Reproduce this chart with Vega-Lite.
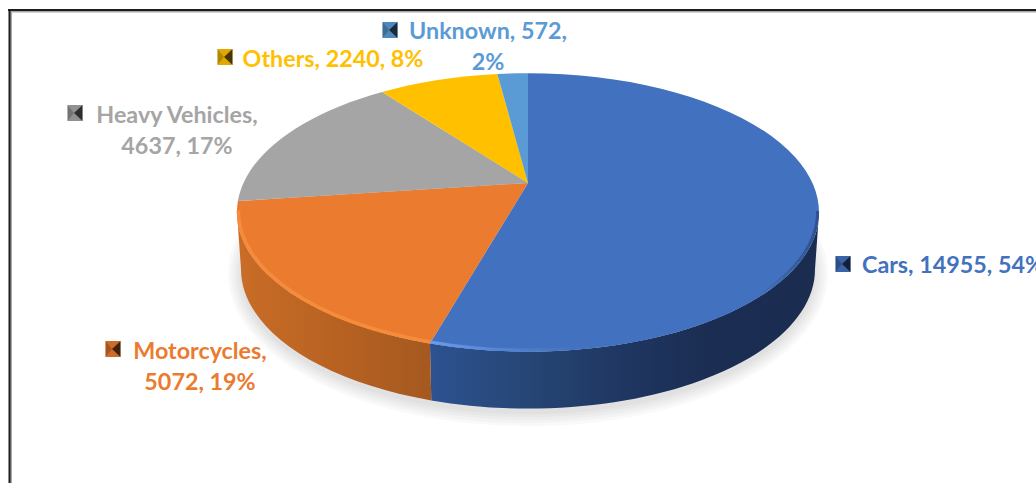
{
  "$schema": "https://vega.github.io/schema/vega-lite/v6.json",
  "width": 1036,
  "height": 483,
  "padding": 0,
  "autosize": {"type": "fit", "contains": "padding"},
  "background": "#ffffff",
  "config": {"view": {"stroke": null}, "axis": {"disable": true}},
  "data": {"values": [
    {"rank": 1, "category": "Cars", "value": 14955, "label": "Cars, 14955, 54%"},
    {"rank": 2, "category": "Motorcycles", "value": 5072, "label": "Motorcycles,\n5072, 19%"},
    {"rank": 3, "category": "Heavy Vehicles", "value": 4637, "label": "Heavy Vehicles,\n4637, 17%"},
    {"rank": 4, "category": "Others", "value": 2240, "label": "Others, 2240, 8%"},
    {"rank": 5, "category": "Unknown", "value": 572, "label": "Unknown, 572,\n2%"}
  ]},
  "transform": [
    {"joinaggregate": [{"op": "sum", "field": "value", "as": "total"}]},
    {"window": [{"op": "sum", "field": "value", "as": "cum"}], "sort": [{"field": "rank", "order": "ascending"}]},
    {"calculate": "2*PI*(datum.cum-datum.value)/datum.total", "as": "a0"},
    {"calculate": "2*PI*datum.cum/datum.total", "as": "a1"},
    {"calculate": "round(28450*sin(datum.a0)/(1+0.211*cos(datum.a0)))/100", "as": "x0"},
    {"calculate": "round(-13300*cos(datum.a0)/(1+0.211*cos(datum.a0)))/100", "as": "y0"},
    {"calculate": "round(28450*sin(datum.a1)/(1+0.211*cos(datum.a1)))/100", "as": "x1"},
    {"calculate": "round(-13300*cos(datum.a1)/(1+0.211*cos(datum.a1)))/100", "as": "y1"},
    {"calculate": "'M0,0L'+datum.x0+','+datum.y0+'A291,139.2,0,'+(datum.a1-datum.a0>PI?1:0)+',1,'+datum.x1+','+datum.y1+'Z'", "as": "wedge"},
    {"calculate": "max(datum.a0,1.784)", "as": "s0"},
    {"calculate": "min(datum.a1,4.5)", "as": "s1"},
    {"calculate": "round(28450*sin(datum.s0)/(1+0.211*cos(datum.s0)))/100", "as": "sx0"},
    {"calculate": "round(-13300*cos(datum.s0)/(1+0.211*cos(datum.s0)))/100", "as": "sy0"},
    {"calculate": "round(28450*sin(datum.s1)/(1+0.211*cos(datum.s1)))/100", "as": "sx1"},
    {"calculate": "round(-13300*cos(datum.s1)/(1+0.211*cos(datum.s1)))/100", "as": "sy1"},
    {"calculate": "'M'+datum.sx0+','+datum.sy0+'A291,139.2,0,0,1,'+datum.sx1+','+datum.sy1+'L'+round(datum.sx1*98.6)/100+','+(datum.sy1+57)+'A287,139.2,0,0,0,'+round(datum.sx0*98.6)/100+','+(datum.sy0+57)+'Z'", "as": "side"},
    {"calculate": "'M'+round(datum.sx0*99.5)/100+','+(datum.sy0-1.5)+'A289.5,138.5,0,0,1,'+round(datum.sx1*99.5)/100+','+(datum.sy1-1.5)", "as": "rim"},
    {"calculate": "{'Cars':953,'Motorcycles':200,'Heavy Vehicles':177,'Others':333,'Unknown':488}[datum.category]", "as": "labelX"},
    {"calculate": "{'Cars':266,'Motorcycles':351.5,'Heavy Vehicles':116,'Others':60,'Unknown':31.5}[datum.category]", "as": "labelY"},
    {"calculate": "{'Cars':843,'Motorcycles':113,'Heavy Vehicles':75,'Others':225,'Unknown':390}[datum.category]", "as": "keyX"},
    {"calculate": "{'Cars':264,'Motorcycles':349,'Heavy Vehicles':113,'Others':57,'Unknown':30}[datum.category]", "as": "keyY"}
  ],
  "layer": [
    {
      "data": {"values": [{"spread": 1}, {"spread": 4}, {"spread": 7}, {"spread": 10}, {"spread": 13}]},
      "transform": [
        {"calculate": "'M'+(-287-datum.spread)+',91A'+(287+datum.spread)+','+(139.2+datum.spread)+',0,1,0,'+(287+datum.spread)+',91A'+(287+datum.spread)+','+(139.2+datum.spread)+',0,1,0,'+(-287-datum.spread)+',91Z'", "as": "halo"}
      ],
      "mark": {"type": "point", "filled": true, "opacity": 0.022, "fill": "#000000", "size": 4},
      "encoding": {
        "x": {"datum": 528, "type": "quantitative", "scale": {"domain": [0, 1036], "range": [0, 1036], "nice": false, "zero": false}},
        "y": {"datum": 183, "type": "quantitative", "scale": {"domain": [0, 483], "range": [0, 483], "nice": false, "zero": false}},
        "shape": {"field": "halo", "type": "nominal", "scale": null, "legend": null}
      }
    },
    {
      "data": {"values": [{"edge": "top"}]},
      "mark": {"type": "rule", "stroke": "#a8a8a8", "strokeWidth": 2},
      "encoding": {
        "x": {"datum": 9, "type": "quantitative"},
        "x2": {"datum": 1036},
        "y": {"datum": 11.5, "type": "quantitative"}
      }
    },
    {
      "data": {"values": [{"edge": "left"}]},
      "mark": {"type": "rule", "stroke": "#a8a8a8", "strokeWidth": 2},
      "encoding": {
        "x": {"datum": 11, "type": "quantitative"},
        "y": {"datum": 10, "type": "quantitative"},
        "y2": {"datum": 483}
      }
    },
    {
      "data": {"values": [{"edge": "top"}]},
      "mark": {"type": "rule", "stroke": "#1c1c1c", "strokeWidth": 2},
      "encoding": {
        "x": {"datum": 8, "type": "quantitative"},
        "x2": {"datum": 1036},
        "y": {"datum": 10, "type": "quantitative"}
      }
    },
    {
      "data": {"values": [{"edge": "left"}]},
      "mark": {"type": "rule", "stroke": "#1c1c1c", "strokeWidth": 2},
      "encoding": {
        "x": {"datum": 9.5, "type": "quantitative"},
        "y": {"datum": 10, "type": "quantitative"},
        "y2": {"datum": 483}
      }
    },
    {
      "transform": [{"filter": "datum.category==='Cars'"}],
      "mark": {"type": "point", "filled": true, "opacity": 1, "size": 4, "fill": {
        "gradient": "linear", "x1": 0, "x2": 1, "y1": 0, "y2": 0,
        "stops": [{"offset": 0, "color": "#2c5290"}, {"offset": 0.25, "color": "#264675"}, {"offset": 0.5, "color": "#1f3661"}, {"offset": 0.72, "color": "#1b2d52"}, {"offset": 1, "color": "#1a2c50"}]
      }},
      "encoding": {
        "x": {"datum": 528, "type": "quantitative"},
        "y": {"datum": 183, "type": "quantitative"},
        "shape": {"field": "side", "type": "nominal", "scale": null, "legend": null}
      }
    },
    {
      "transform": [{"filter": "datum.category==='Motorcycles'"}],
      "mark": {"type": "point", "filled": true, "opacity": 1, "size": 4, "fill": {
        "gradient": "linear", "x1": 0, "x2": 1, "y1": 0, "y2": 0,
        "stops": [{"offset": 0, "color": "#c96d27"}, {"offset": 0.5, "color": "#b86222"}, {"offset": 1, "color": "#a5591f"}]
      }},
      "encoding": {
        "x": {"datum": 528, "type": "quantitative"},
        "y": {"datum": 183, "type": "quantitative"},
        "shape": {"field": "side", "type": "nominal", "scale": null, "legend": null}
      }
    },
    {
      "mark": {"type": "point", "filled": true, "opacity": 1, "size": 4},
      "encoding": {
        "x": {"datum": 528, "type": "quantitative"},
        "y": {"datum": 183, "type": "quantitative"},
        "shape": {"field": "wedge", "type": "nominal", "scale": null, "legend": null},
        "fill": {"field": "category", "type": "nominal", "legend": null, "scale": {
          "domain": ["Cars", "Motorcycles", "Heavy Vehicles", "Others", "Unknown"],
          "range": ["#4271c0", "#ea7b2f", "#a5a5a5", "#ffc000", "#5b9bd5"]
        }}
      }
    },
    {
      "transform": [{"filter": "datum.category==='Motorcycles'"}],
      "mark": {"type": "point", "filled": false, "opacity": 1, "size": 4, "strokeWidth": 3.5, "stroke": "#f78b3c", "fill": "transparent"},
      "encoding": {
        "x": {"datum": 528, "type": "quantitative"},
        "y": {"datum": 183, "type": "quantitative"},
        "shape": {"field": "rim", "type": "nominal", "scale": null, "legend": null}
      }
    },
    {
      "transform": [{"filter": "datum.category==='Cars'"}],
      "mark": {"type": "point", "filled": false, "opacity": 1, "size": 4, "strokeWidth": 3, "fill": "transparent", "stroke": {
        "gradient": "linear", "x1": 0, "x2": 1, "y1": 0, "y2": 0,
        "stops": [{"offset": 0, "color": "#6c9be8"}, {"offset": 0.25, "color": "#4c7ccd"}, {"offset": 0.4, "color": "#4271c0"}, {"offset": 0.85, "color": "#4271c0"}, {"offset": 1, "color": "#2f5090"}]
      }},
      "encoding": {
        "x": {"datum": 528, "type": "quantitative"},
        "y": {"datum": 183, "type": "quantitative"},
        "shape": {"field": "rim", "type": "nominal", "scale": null, "legend": null}
      }
    },
    {
      "mark": {"type": "point", "filled": true, "opacity": 1, "size": 4, "shape": "M-7.5,-8L7.5,-8L7.5,8L-7.5,8Z"},
      "encoding": {
        "x": {"field": "keyX", "type": "quantitative"},
        "y": {"field": "keyY", "type": "quantitative"},
        "fill": {"field": "category", "type": "nominal", "legend": null}
      }
    },
    {
      "mark": {"type": "point", "filled": true, "fill": "#000000", "opacity": 0.3, "size": 4, "shape": "M-7.5,-8L-1,0L-7.5,8Z"},
      "encoding": {
        "x": {"field": "keyX", "type": "quantitative"},
        "y": {"field": "keyY", "type": "quantitative"}
      }
    },
    {
      "mark": {"type": "point", "filled": true, "fill": "#000000", "opacity": 0.72, "size": 4, "shape": "M7.5,-8L7.5,8L-1,0Z"},
      "encoding": {
        "x": {"field": "keyX", "type": "quantitative"},
        "y": {"field": "keyY", "type": "quantitative"}
      }
    },
    {
      "mark": {"type": "point", "filled": true, "fill": "#000000", "opacity": 0.12, "size": 4, "shape": "M-7.5,-8L7.5,-8L-1,0ZM-7.5,8L7.5,8L-1,0Z"},
      "encoding": {
        "x": {"field": "keyX", "type": "quantitative"},
        "y": {"field": "keyY", "type": "quantitative"}
      }
    },
    {
      "mark": {"type": "text", "font": "Lato", "fontWeight": "bold", "fontSize": 23.3, "lineBreak": "\n", "lineHeight": 31, "align": "center", "baseline": "middle"},
      "encoding": {
        "x": {"field": "labelX", "type": "quantitative"},
        "y": {"field": "labelY", "type": "quantitative"},
        "text": {"field": "label"},
        "fill": {"field": "category", "type": "nominal", "legend": null}
      }
    }
  ]
}
